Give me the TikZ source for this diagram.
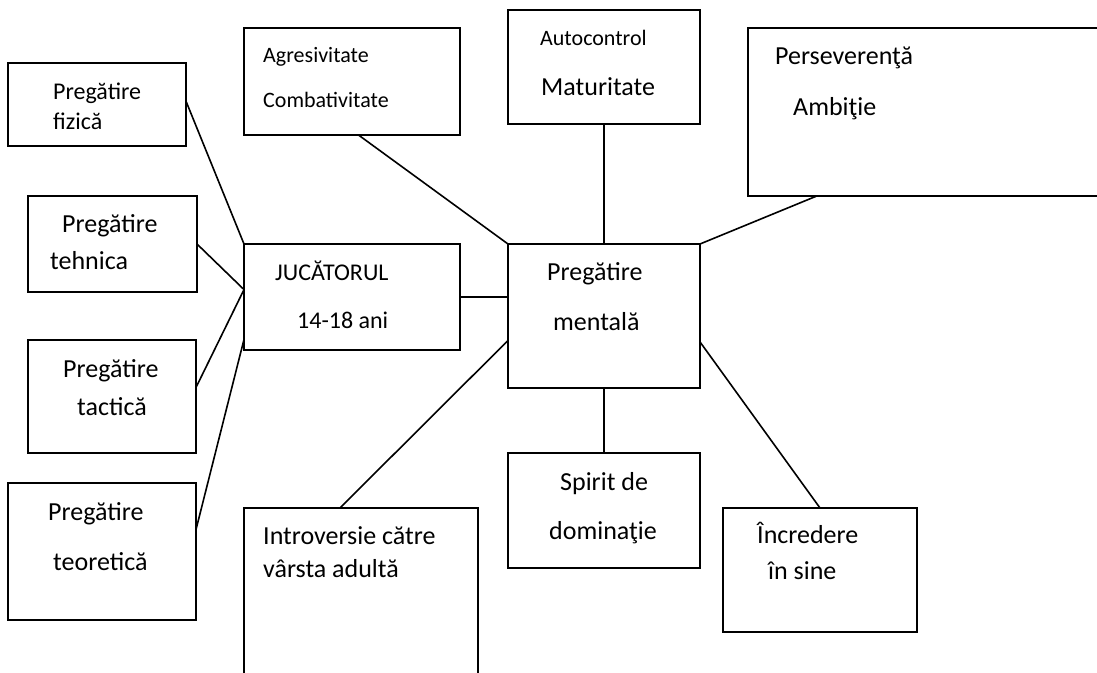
\documentclass[tikz,border=0pt]{standalone}
\usepackage{fontspec}
\setmainfont{Carlito}
\usetikzlibrary{calc}
\begin{document}
\begin{tikzpicture}[x=1pt,y=-1pt]
\tikzset{
 box/.style={draw=black, line width=1.6pt, inner sep=0pt, outer sep=0pt},
 lnk/.style={draw=black, line width=1.6pt},
 txt/.style={anchor=base west, inner sep=0pt, font=\fontsize{26}{30}\selectfont},
 txtm/.style={txt, font=\fontsize{24}{28}\selectfont},
 txts/.style={txt, font=\fontsize{22}{26}\selectfont},
}
\useasboundingbox (0,0) rectangle (1097,672);
\fill[white] (0,0) rectangle (1097,672);
\clip (0,0) rectangle (1097,672);

% boxes
\node[box, minimum width=178pt, minimum height=83pt]  (fiz) at (97,104.5) {};
\node[box, minimum width=169pt, minimum height=96pt]  (teh) at (112.5,244) {};
\node[box, minimum width=168pt, minimum height=113pt] (tac) at (112,396.5) {};
\node[box, minimum width=188pt, minimum height=137pt] (teo) at (102,551.5) {};
\node[box, minimum width=216pt, minimum height=106pt] (juc) at (352,297) {};
\node[box, minimum width=216pt, minimum height=107pt] (agr) at (352,81.5) {};
\node[box, minimum width=192pt, minimum height=114pt] (aut) at (604,67) {};
\node[box, minimum width=362pt, minimum height=168pt] (per) at (929,112) {};
\node[box, minimum width=192pt, minimum height=144pt] (men) at (604,316) {};
\node[box, minimum width=192pt, minimum height=115pt] (spi) at (604,510.5) {};
\node[box, minimum width=234pt, minimum height=192pt] (int) at (361,604) {};
\node[box, minimum width=194pt, minimum height=124pt] (inc) at (820,570) {};

% texts
\node[txtm] (fizA) at (53,99) {Pregătire};
\node[txtm] (fizB) at (53,129) {fizică};
\node[txt] (tehA) at (62,232) {Pregătire};
\node[txt] (tehB) at (50,269) {tehnica};
\node[txt] (tacA) at (63,377) {Pregătire};
\node[txt] (tacB) at (77,415) {tactică};
\node[txt] (teoA) at (48,520) {Pregătire};
\node[txt] (teoB) at (53,570) {teoretică};
\node[txtm] (jucA) at (275,280) {JUCĂTORUL};
\node[txtm] (jucB) at (297,328) {14-18 ani};
\node[txts] (agrA) at (263,62) {Agresivitate};
\node[txts] (agrB) at (263,107) {Combativitate};
\node[txts] (autA) at (540,45) {Autocontrol};
\node[txt] (autB) at (541,95) {Maturitate};
\node[txt] (perA) at (775,64) {Perseverenţă};
\node[txt] (perB) at (793,115) {Ambiţie};
\node[txt] (menA) at (547,280) {Pregătire};
\node[txt] (menB) at (553,330) {mentală};
\node[txt] (spiA) at (560,490) {Spirit de};
\node[txt] (spiB) at (549,539) {dominaţie};
\node[txt] (intA) at (263,544) {Introversie către};
\node[txt] (intB) at (263,577) {vârsta adultă};
\node[txt] (incA) at (757,543) {Încredere};
\node[txt] (incB) at (768,579) {în sine};

% connectors
\draw[lnk] ($(fiz.north east)!0.46!(fiz.south east)$) -- (juc.north west);
\draw[lnk] (teh.east) -- ($(juc.north west)!0.43!(juc.south west)$);
\draw[lnk] ($(tac.north east)!0.42!(tac.south east)$) -- ($(juc.north west)!0.43!(juc.south west)$);
\draw[lnk] ($(teo.north east)!0.34!(teo.south east)$) -- ($(juc.north west)!0.9!(juc.south west)$);
\draw[lnk] ($(agr.south west)!0.53!(agr.south east)$) -- (men.north west);
\draw[lnk] (juc.east) -- (juc.east -| men.west);
\draw[lnk] (aut.south) -- (men.north);
\draw[lnk] ($(per.south west)!0.19!(per.south east)$) -- (men.north east);
\draw[lnk] ($(int.north west)!0.41!(int.north east)$) -- ($(men.north west)!0.67!(men.south west)$);
\draw[lnk] (men.south) -- (spi.north);
\draw[lnk] ($(men.north east)!0.68!(men.south east)$) -- (inc.north);
\end{tikzpicture}
\end{document}
